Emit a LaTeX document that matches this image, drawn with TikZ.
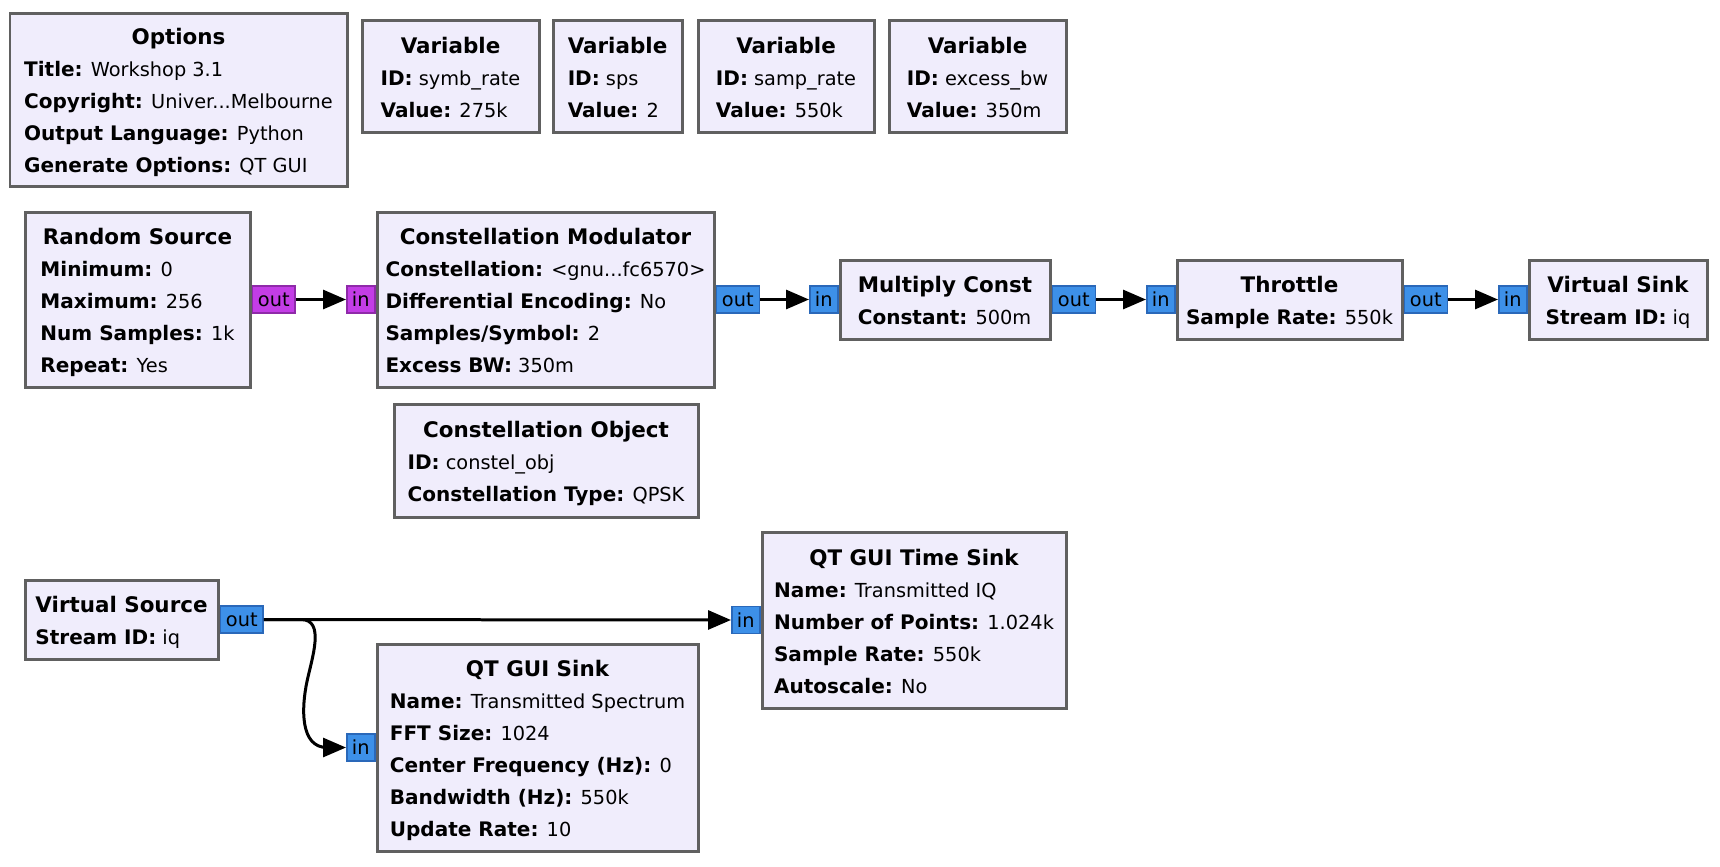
\documentclass[tikz,border=0pt]{standalone}
\usepackage{fontspec}
\setmainfont{DejaVu Sans}
\usetikzlibrary{arrows.meta,fit,positioning}

\definecolor{blkfill}{HTML}{F0EDFC}
\definecolor{blkline}{HTML}{606060}
\definecolor{bytefill}{HTML}{C33DE6}
\definecolor{byteline}{HTML}{8F2AA9}
\definecolor{cpxfill}{HTML}{3D90E8}
\definecolor{cpxline}{HTML}{2A68B9}

\newcommand{\blktitle}{\fontsize{12.2}{18.2}\selectfont\bfseries}
\newcommand{\prm}[1]{{\fontsize{11.4}{18.2}\selectfont\bfseries #1}}

\tikzset{
 blk/.style={draw=blkline, fill=blkfill, line width=0.06cm, inner sep=0pt},
 blktext/.style={inner sep=0pt, yshift=-0.06cm, font=\fontsize{11}{18.2}\selectfont},
 port/.style={draw, line width=0.03cm, inner sep=0pt, minimum height=0.54cm,
  font=\fontsize{11}{13}\selectfont},
 outp/.style={port, minimum width=0.86cm},
 inp/.style={port, minimum width=0.56cm},
 bytep/.style={fill=bytefill, draw=byteline},
 cpxp/.style={fill=cpxfill, draw=cpxline},
 conn/.style={line width=0.06cm, -{Triangle[length=0.46cm,width=0.38cm]}}
}

\begin{document}
\begin{tikzpicture}[x=0.02cm, y=0.02cm]
 \path[use as bounding box] (0,0) rectangle (1720,-866);

 % boxes
 \node[blk, fit={(10,-13) (347,-186)}] (opt) {};
 \foreach \n/\xa/\xb in {0/362/539, 1/553/682, 2/698/874, 3/889/1066}
  \node[blk, fit={(\xa,-20) (\xb,-132)}] (var\n) {};
 \node[blk, fit={(25,-212) (250,-387)}] (rsrc) {};
 \node[blk, fit={(377,-212) (714,-387)}] (cmod) {};
 \node[blk, fit={(840,-260) (1050,-339)}] (mconst) {};
 \node[blk, fit={(1177,-260) (1402,-339)}] (thr) {};
 \node[blk, fit={(1529,-260) (1707,-339)}] (vsink) {};
 \node[blk, fit={(394,-404) (698,-517)}] (cobj) {};
 \node[blk, fit={(25,-580) (218,-659)}] (vsrc) {};
 \node[blk, fit={(762,-532) (1066,-708)}] (tsink) {};
 \node[blk, fit={(377,-644) (698,-851)}] (fsink) {};

 % block texts
 \node[blktext] (opt-t) at (opt) {\begin{tabular}{@{}l@{}}
  \multicolumn{1}{@{}c@{}}{\blktitle Options}\\
  \prm{Title:} Workshop 3.1\\
  \prm{Copyright:} Univer...Melbourne\\
  \prm{Output Language:} Python\\
  \prm{Generate Options:} QT GUI
 \end{tabular}};
 \foreach \n/\id/\val in {0/symb\_rate/275k, 1/sps/2, 2/samp\_rate/550k, 3/excess\_bw/350m}
  \node[blktext] (var\n-t) at (var\n) {\begin{tabular}{@{}l@{}}
   \multicolumn{1}{@{}c@{}}{\blktitle Variable}\\
   \prm{ID:} \id\\
   \prm{Value:} \val
  \end{tabular}};
 \node[blktext] (rsrc-t) at (rsrc) {\begin{tabular}{@{}l@{}}
  \multicolumn{1}{@{}c@{}}{\blktitle Random Source}\\
  \prm{Minimum:} 0\\
  \prm{Maximum:} 256\\
  \prm{Num Samples:} 1k\\
  \prm{Repeat:} Yes
 \end{tabular}};
 \node[blktext] (cmod-t) at (cmod) {\begin{tabular}{@{}l@{}}
  \multicolumn{1}{@{}c@{}}{\blktitle Constellation Modulator}\\
  \prm{Constellation:} <gnu...fc6570>\\
  \prm{Differential Encoding:} No\\
  \prm{Samples/Symbol:} 2\\
  \prm{Excess BW:} 350m
 \end{tabular}};
 \node[blktext] (mconst-t) at (mconst) {\begin{tabular}{@{}l@{}}
  \multicolumn{1}{@{}c@{}}{\blktitle Multiply Const}\\
  \prm{Constant:} 500m
 \end{tabular}};
 \node[blktext] (thr-t) at (thr) {\begin{tabular}{@{}l@{}}
  \multicolumn{1}{@{}c@{}}{\blktitle Throttle}\\
  \prm{Sample Rate:} 550k
 \end{tabular}};
 \node[blktext] (vsink-t) at (vsink) {\begin{tabular}{@{}l@{}}
  \multicolumn{1}{@{}c@{}}{\blktitle Virtual Sink}\\
  \prm{Stream ID:} iq
 \end{tabular}};
 \node[blktext] (cobj-t) at (cobj) {\begin{tabular}{@{}l@{}}
  \multicolumn{1}{@{}c@{}}{\blktitle Constellation Object}\\
  \prm{ID:} constel\_obj\\
  \prm{Constellation Type:} QPSK
 \end{tabular}};
 \node[blktext] (vsrc-t) at (vsrc) {\begin{tabular}{@{}l@{}}
  \multicolumn{1}{@{}c@{}}{\blktitle Virtual Source}\\
  \prm{Stream ID:} iq
 \end{tabular}};
 \node[blktext] (tsink-t) at (tsink) {\begin{tabular}{@{}l@{}}
  \multicolumn{1}{@{}c@{}}{\blktitle QT GUI Time Sink}\\
  \prm{Name:} Transmitted IQ\\
  \prm{Number of Points:} 1.024k\\
  \prm{Sample Rate:} 550k\\
  \prm{Autoscale:} No
 \end{tabular}};
 \node[blktext] (fsink-t) at (fsink) {\begin{tabular}{@{}l@{}}
  \multicolumn{1}{@{}c@{}}{\blktitle QT GUI Sink}\\
  \prm{Name:} Transmitted Spectrum\\
  \prm{FFT Size:} 1024\\
  \prm{Center Frequency (Hz):} 0\\
  \prm{Bandwidth (Hz):} 550k\\
  \prm{Update Rate:} 10
 \end{tabular}};

 % ports
 \foreach \b/\c in {rsrc/bytep, cmod/cpxp, mconst/cpxp, thr/cpxp, vsrc/cpxp}
  \node[outp, \c, anchor=west] (\b-out) at (\b.east) {out};
 \foreach \b/\c in {cmod/bytep, mconst/cpxp, thr/cpxp, vsink/cpxp, tsink/cpxp, fsink/cpxp}
  \node[inp, \c, anchor=east] (\b-in) at (\b.west) {in};

 % connectors
 \foreach \a/\b in {rsrc/cmod, cmod/mconst, mconst/thr, thr/vsink, vsrc/tsink}
  \draw[conn] (\a-out) -- (\b-in);
 \draw[conn] (vsrc-out.east) -- ++(37,0) to[out=0,in=78] ++(6,-62)
  to[out=-102,in=180] ++(20,-66) -- (fsink-in);
\end{tikzpicture}
\end{document}
